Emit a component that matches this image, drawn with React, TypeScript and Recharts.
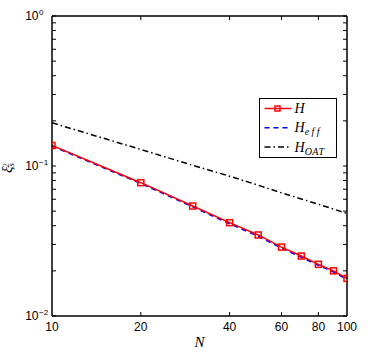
import React from "react";
import { LineChart, Line, XAxis, YAxis, Legend } from "recharts";

const Ns = [10, 20, 30, 40, 50, 60, 70, 80, 90, 100];
const hValues = [0.137, 0.0774, 0.0541, 0.0419, 0.0347, 0.0288, 0.0251, 0.0221, 0.02, 0.0178];
const heffValues = [0.136, 0.0767, 0.0535, 0.0413, 0.0341, 0.0284, 0.0247, 0.0218, 0.0197, 0.0175];
const hoatValues = [0.194, 0.129, 0.101, 0.0855, 0.0745, 0.0662, 0.0603, 0.0556, 0.0516, 0.0483];

const xTicks = [10, 20, 40, 60, 80, 100];
const xInnerTicks = [20, 40, 60, 80];
const yMajor = [0.01, 0.1, 1];
const yMajorExp = ["-2", "-1", "0"];
const yMinor = [0.02, 0.03, 0.04, 0.05, 0.06, 0.07, 0.08, 0.09, 0.2, 0.3, 0.4, 0.5, 0.6, 0.7, 0.8, 0.9];

const data = Ns.map((n, i) => ({ n, h: hValues[i], heff: heffValues[i], hoat: hoatValues[i] }));

const series = [
  { key: "h", sub: "", color: "#ff0000", dash: undefined as string | undefined, marker: true },
  { key: "heff", sub: "eff", color: "#0000ff", dash: "5 4", marker: false },
  { key: "hoat", sub: "OAT", color: "#000000", dash: "6 3 1.5 3", marker: false },
];

const SANS = "'Liberation Sans', Arial, sans-serif";
const SERIF = "'Liberation Serif', 'Times New Roman', serif";

const Empty = () => <g />;

const SquareDot = (props: any) => {
  const { cx, cy } = props;
  if (cx == null || cy == null) return <g />;
  return <rect x={cx - 3} y={cy - 3} width={6} height={6} fill="none" stroke="#ff0000" strokeWidth={1.5} />;
};

const YTick = (props: any) => {
  const { y, payload } = props;
  const idx = yMajor.indexOf(payload.value);
  return (
    <g fontFamily={SANS} fill="#000">
      <text x={38.5} y={y + 4.3} textAnchor="end" fontSize={12}>10</text>
      <text x={39} y={y - 1.5} textAnchor="start" fontSize={8}>{yMajorExp[idx] === "0" ? "0" : "\u2212" + yMajorExp[idx].slice(1)}</text>
    </g>
  );
};

const LegendBox = () => (
  <div style={{ width: 78, height: 60, border: "1.5px solid #000", background: "#fff", boxSizing: "border-box" }}>
    <svg width={75} height={57} style={{ display: "block" }}>
      {series.map((s, i) => {
        const cy = 9.5 + i * 19.3;
        return (
          <g key={s.key}>
            <line x1={4.5} x2={31.5} y1={cy} y2={cy} stroke={s.color} strokeWidth={1.5} strokeDasharray={s.dash} />
            {s.marker && <rect x={15} y={cy - 2.5} width={5} height={5} fill="none" stroke={s.color} strokeWidth={1.5} />}
            <text x={34.5} y={cy + 4.5} fontFamily={SERIF} fontStyle="italic" fontSize={14} fill="#000">
              H
              {s.sub && (
                <tspan fontSize={10} dy={3} letterSpacing={s.sub === "eff" ? 2.5 : 0.5}>{s.sub}</tspan>
              )}
            </text>
          </g>
        );
      })}
    </svg>
  </div>
);

const tickStroke = { stroke: "#000", strokeWidth: 1 };

export default function App() {
  return (
    <div style={{ position: "absolute", left: 0, top: 0, width: 374, height: 360, background: "#fff" }}>
      <LineChart width={374} height={360} data={data} margin={{ top: 16, right: 27, bottom: 0, left: 0 }}>
        <XAxis
          xAxisId="b"
          dataKey="n"
          type="number"
          scale="log"
          domain={[10, 100]}
          allowDataOverflow
          ticks={xTicks}
          interval={0}
          height={44}
          tickLine={false}
          tickSize={0}
          tickMargin={6}
          tick={{ fontSize: 12, fill: "#000", fontFamily: SANS }}
          axisLine={{ stroke: "#000", strokeWidth: 1.5 }}
          label={{
            content: (p: any) => (
              <text x={p.viewBox.x + p.viewBox.width * 0.5} y={347} textAnchor="middle" fontFamily={SERIF} fontStyle="italic" fontSize={15} fill="#000">N</text>
            ),
          }}
        />
        <XAxis xAxisId="bi" dataKey="n" type="number" scale="log" domain={[10, 100]} allowDataOverflow ticks={xInnerTicks} interval={0} mirror tickSize={4} tick={Empty} tickLine={tickStroke} axisLine={false} />
        <XAxis xAxisId="t" orientation="top" dataKey="n" type="number" scale="log" domain={[10, 100]} allowDataOverflow ticks={xInnerTicks} interval={0} mirror tickSize={4} tick={Empty} tickLine={tickStroke} axisLine={{ stroke: "#000", strokeWidth: 1.5 }} />
        <YAxis
          yAxisId="l"
          type="number"
          scale="log"
          domain={[0.01, 1]}
          allowDataOverflow
          ticks={yMajor}
          interval={0}
          width={52}
          tickLine={false}
          tick={YTick}
          axisLine={{ stroke: "#000", strokeWidth: 1.5 }}
          label={{
            content: (p: any) => {
              const cy = p.viewBox.y + p.viewBox.height / 2 + 2;
              return (
                <text transform={`rotate(-90, 12, ${cy})`} x={12} y={cy} textAnchor="middle" fontFamily={SERIF} fontStyle="italic" fontSize={15} fill="#000">
                  ξ<tspan fontSize={9} dy={1.5}>s</tspan><tspan fontSize={8} dx={-4.5} dy={-5}>2</tspan>
                </text>
              );
            },
          }}
        />
        <YAxis yAxisId="lm" type="number" scale="log" domain={[0.01, 1]} allowDataOverflow ticks={[...yMajor, ...yMinor]} interval={0} mirror tickSize={4} tick={Empty} tickLine={tickStroke} axisLine={false} />
        <YAxis yAxisId="r" orientation="right" type="number" scale="log" domain={[0.01, 1]} allowDataOverflow ticks={[...yMajor, ...yMinor]} interval={0} mirror tickSize={4} tick={Empty} tickLine={tickStroke} axisLine={{ stroke: "#000", strokeWidth: 1.5 }} />
        <Legend layout="horizontal" verticalAlign="middle" align="center" content={<LegendBox />} wrapperStyle={{ position: "absolute", left: 259, top: 98, width: 78, height: 60 }} />
        <Line xAxisId="b" yAxisId="l" dataKey="hoat" stroke="#000" strokeWidth={1.5} strokeDasharray="6 3 1.5 3" dot={false} isAnimationActive={false} />
        <Line xAxisId="bi" yAxisId="lm" dataKey="heff" stroke="#0000ff" strokeWidth={1.8} strokeDasharray="5 4" dot={false} isAnimationActive={false} />
        <Line xAxisId="t" yAxisId="r" dataKey="h" stroke="#ff0000" strokeWidth={1.5} dot={<SquareDot />} isAnimationActive={false} />
      </LineChart>
    </div>
  );
}
